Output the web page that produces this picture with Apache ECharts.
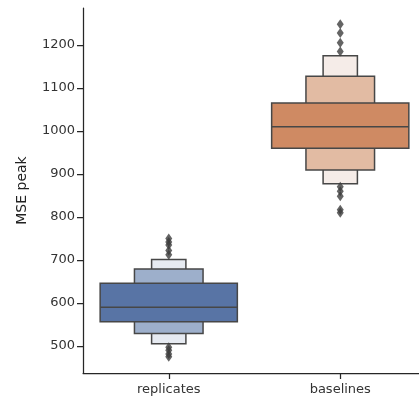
<!DOCTYPE html>
<html><head><meta charset="utf-8">
<script src="https://cdn.jsdelivr.net/npm/echarts@6/dist/echarts.min.js"></script>
<style>html,body{margin:0;padding:0;background:#fff;overflow:hidden;width:419px;height:401px}#c{width:426px;height:401px}</style>
</head><body><div id="c"></div>
<script>
const categories = ['replicates', 'baselines'];
// letter-value boxes per category: [low, high], from innermost to outermost
const replicatesLevels = [[556, 646], [529, 679], [505, 701]];
const baselinesLevels = [[960, 1065], [909, 1127], [877, 1175]];
const medians = [590, 1010];
const replicatesOutliers = [712, 722, 735, 742, 750, 497, 490, 481, 475];
const baselinesOutliers = [1185, 1205, 1228, 1248, 870, 860, 848, 817, 810];
const yTicks = [500, 600, 700, 800, 900, 1000, 1100, 1200];

const levelColors = [
  ['#5874a5', '#9dafcb', '#e6eaf1'],
  ['#cf8a63', '#e2bba3', '#f5ece8']
];
const widthFactors = [0.8, 0.4, 0.2];
const allLevels = [replicatesLevels, baselinesLevels];

const boxData = [];
allLevels.forEach((lv, ci) => {
  for (let k = lv.length - 1; k >= 0; k--) boxData.push([ci, lv[k][0], lv[k][1], k]);
});
const medianData = medians.map((m, i) => [i, m]);
const outlierData = [];
replicatesOutliers.forEach(v => outlierData.push([0, v]));
baselinesOutliers.forEach(v => outlierData.push([1, v]));

const chart = echarts.init(document.getElementById('c'), null, {renderer: 'canvas'});
chart.setOption({
  animation: false,
  grid: {left: 83, top: 8, right: 0, bottom: 28},
  xAxis: {
    type: 'category', data: categories,
    axisLine: {lineStyle: {color: '#262626', width: 1.25}},
    axisTick: {show: true, alignWithLabel: true, length: 6, lineStyle: {color: '#262626', width: 1.25}},
    axisLabel: {color: '#333', fontSize: 13, fontFamily: 'DejaVu Sans', margin: 10}
  },
  yAxis: {
    type: 'value', min: 437, max: 1286,
    name: 'MSE peak', nameLocation: 'middle', nameGap: 54, nameRotate: 90,
    nameTextStyle: {color: '#222', fontSize: 14, fontFamily: 'DejaVu Sans'},
    splitLine: {show: false},
    axisLine: {show: true, lineStyle: {color: '#262626', width: 1.25}},
    axisTick: {show: true, length: 6, customValues: yTicks, lineStyle: {color: '#262626', width: 1.25}},
    axisLabel: {color: '#333', fontSize: 13, fontFamily: 'DejaVu Sans', margin: 8, customValues: yTicks,
      formatter: v => String(v)}
  },
  series: [
    {
      type: 'custom', data: boxData,
      encode: {x: 0, y: [1, 2]},
      renderItem: function (params, api) {
        const ci = api.value(0), lo = api.value(1), hi = api.value(2), k = api.value(3);
        const band = api.size([1, 0])[0];
        const w = band * widthFactors[k];
        const p1 = api.coord([ci, hi]);
        const p2 = api.coord([ci, lo]);
        return {
          type: 'rect',
          shape: {x: p1[0] - w / 2, y: p1[1], width: w, height: p2[1] - p1[1]},
          style: {fill: levelColors[ci][k], stroke: '#474747', lineWidth: 1.5}
        };
      },
      z: 3
    },
    {
      type: 'custom', data: medianData,
      encode: {x: 0, y: 1},
      renderItem: function (params, api) {
        const ci = api.value(0), m = api.value(1);
        const band = api.size([1, 0])[0];
        const w = band * widthFactors[0];
        const p = api.coord([ci, m]);
        return {
          type: 'line',
          shape: {x1: p[0] - w / 2, y1: p[1], x2: p[0] + w / 2, y2: p[1]},
          style: {stroke: '#474747', lineWidth: 1.5}
        };
      },
      z: 4
    },
    {
      type: 'scatter', data: outlierData,
      symbol: 'diamond', symbolSize: [7, 10],
      itemStyle: {color: '#3d3d3d'},
      z: 5
    }
  ]
});
</script></body></html>
